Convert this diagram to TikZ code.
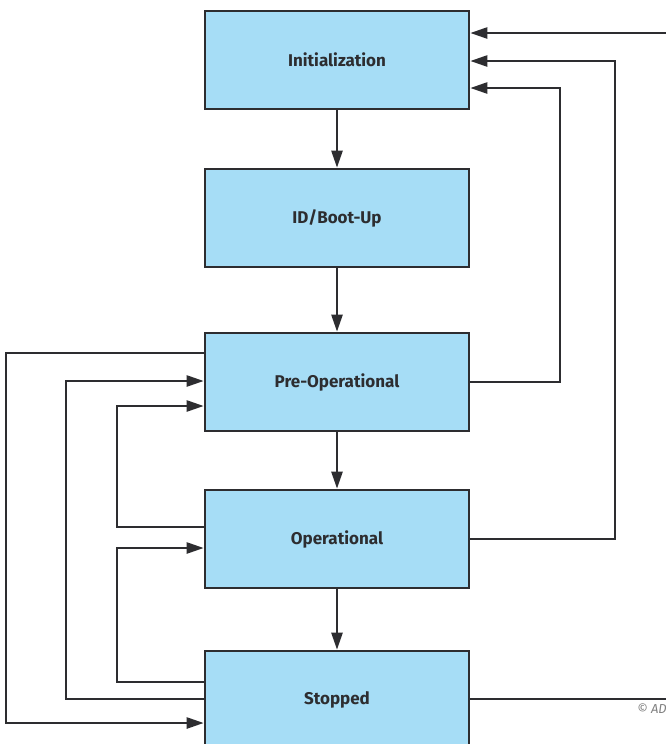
\documentclass[tikz,border=0pt]{standalone}
\usepackage{fontspec}
\setmainfont{Fira Sans}
\usetikzlibrary{arrows.meta}
\definecolor{boxblue}{RGB}{166,221,246}
\definecolor{edge}{RGB}{45,45,48}
\begin{document}
\begin{tikzpicture}[x=1pt,y=-1pt,
  state/.style={draw=edge,line width=2.6pt,fill=boxblue,minimum width=264pt,minimum height=98pt,inner sep=0pt,font=\fontsize{17}{19}\selectfont\bfseries,text=edge},
  conn/.style={draw=edge,line width=2.4pt},
  arr/.style={conn,-{Triangle[length=17pt,width=11pt]}}]
\useasboundingbox (0,0) rectangle (666,744);
\clip (0,0) rectangle (666,744);
\fill[white] (0,0) rectangle (666,744);
\node[state] (init) at (337,60) {Initialization};
\node[state] (boot) at (337,218) {ID/Boot-Up};
\node[state] (pre) at (337,382) {Pre-Operational};
\node[state] (op) at (337,539) {Operational};
\node[state] (stop) at (337,700) {Stopped};
% vertical flow
\draw[arr] (init) -- (boot);
\draw[arr] (boot) -- (pre);
\draw[arr] (pre) -- (op);
\draw[arr] (op) -- (stop);
% right side
\coordinate (rA) at (700,699);
\coordinate (rB) at (615,539);
\coordinate (rC) at (560,382);
\draw[arr] ([yshift=1pt]stop.east) -- (rA) |- ([yshift=27pt]init.east);
\draw[arr] (op.east) -- (rB) |- ([yshift=-1pt]init.east);
\draw[arr] (pre.east) -- (rC) |- ([yshift=-28pt]init.east);
% left side
\coordinate (lA) at (6,353);
\coordinate (lB) at (66,699);
\coordinate (lC) at (117,527);
\coordinate (lD) at (117,682);
\draw[arr] ([yshift=29pt]pre.west) -- (lA) |- ([yshift=-23pt]stop.west);
\draw[arr] ([yshift=1pt]stop.west) -- (lB) |- ([yshift=1pt]pre.west);
\draw[arr] ([yshift=12pt]op.west) -- (lC) |- ([yshift=-24pt]pre.west);
\draw[arr] ([yshift=18pt]stop.west) -- (lD) |- ([yshift=-9pt]op.west);
\node[anchor=west,font=\fontsize{13}{14}\selectfont\itshape,text=gray,inner sep=0pt] (copy) at (637,709) {© ADI};
\end{tikzpicture}
\end{document}
